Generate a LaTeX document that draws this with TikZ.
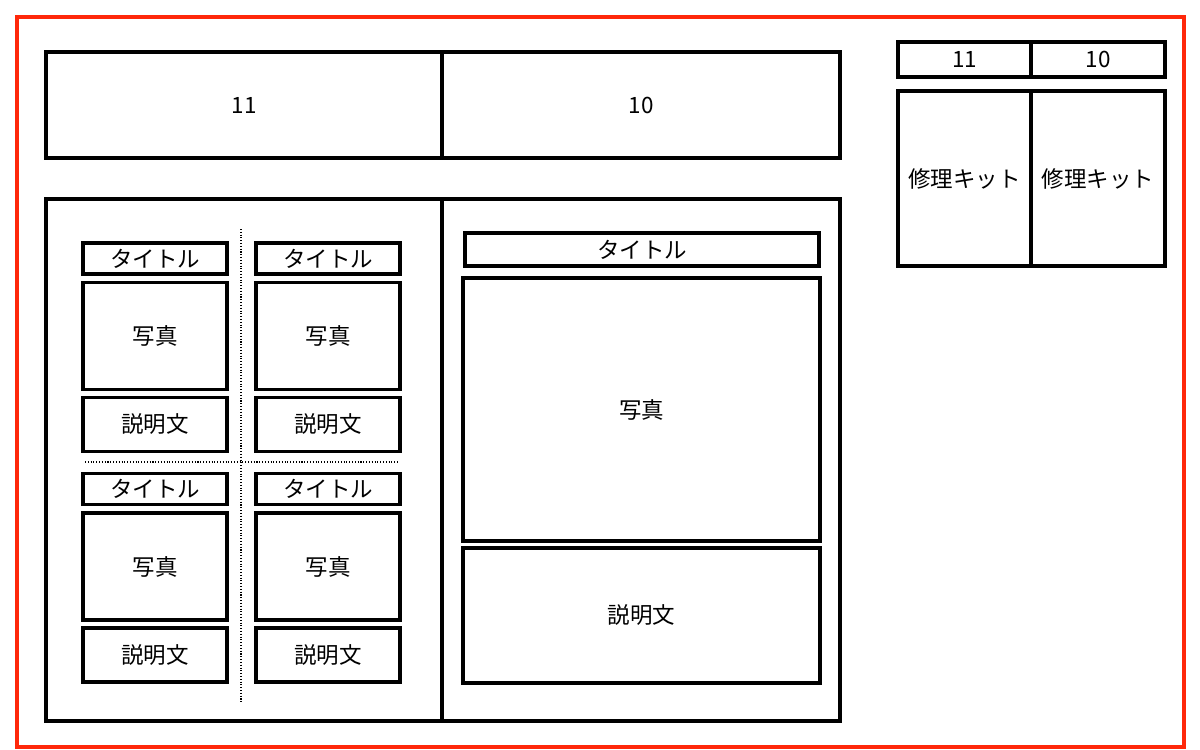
\documentclass[tikz,border=0pt]{standalone}
\usepackage{fontspec}
\setmainfont{Noto Sans CJK JP}
\usepackage{xcolor}
\usepackage{tikz}
\usetikzlibrary{positioning}
\definecolor{framered}{RGB}{255,40,10}

\begin{document}
\begin{tikzpicture}[x=0.02cm, y=-0.02cm,
  frame/.style={draw=framered, line width=2.3pt},
  box/.style={draw, line width=2pt, inner sep=0pt, outer sep=0pt, align=center, font=\fontsize{12.8}{15}\selectfont},
  card/.style={box, minimum width=2.88cm},
  sep/.style={densely dotted, line width=0.6pt}
]
\useasboundingbox (0,0) rectangle (1200,750);
\draw[frame] (17,17) rectangle (1184,747);
% top bar
\node[box, minimum width=7.92cm, minimum height=2.12cm] (top11) at (244,105) {11};
\node[box, minimum width=7.96cm, minimum height=2.12cm] (top10) at (641,105) {10};
% main panels
\node[box, minimum width=7.92cm, minimum height=10.44cm] (left) at (244,460) {};
\node[box, minimum width=7.96cm, minimum height=10.44cm] (right) at (641,460) {};
% left panel, four cards
\node[card, minimum height=0.62cm] (title-a1) at (155,258.5) {タイトル};
\node[card, minimum height=2.14cm] (photo-a1) at (155,336) {写真};
\node[card, minimum height=1.08cm] (desc-a1) at (155,424.5) {説明文};
\node[card, minimum height=0.62cm] (title-b1) at (328,258.5) {タイトル};
\node[card, minimum height=2.14cm] (photo-b1) at (328,336) {写真};
\node[card, minimum height=1.08cm] (desc-b1) at (328,424.5) {説明文};
\node[card, minimum height=0.62cm] (title-a2) at (155,489) {タイトル};
\node[card, minimum height=2.14cm] (photo-a2) at (155,566.5) {写真};
\node[card, minimum height=1.08cm] (desc-a2) at (155,655) {説明文};
\node[card, minimum height=0.62cm] (title-b2) at (328,489) {タイトル};
\node[card, minimum height=2.14cm] (photo-b2) at (328,566.5) {写真};
\node[card, minimum height=1.08cm] (desc-b2) at (328,655) {説明文};
\draw[sep] (241,229) -- (241,702);
\draw[sep] (85,462) -- (398,462);
% right panel
\node[box, minimum width=7.08cm, minimum height=0.66cm] (title-r) at (642,249.5) {タイトル};
\node[box, minimum width=7.14cm, minimum height=5.26cm] (photo-r) at (641.5,409.5) {写真};
\node[box, minimum width=7.14cm, minimum height=2.7cm] (desc-r) at (641.5,615.5) {説明文};
% repair kits
\node[box, minimum width=2.66cm, minimum height=0.7cm] (s11) at (964.5,59.5) {11};
\node[box, minimum width=2.68cm, minimum height=0.7cm] (s10) at (1098,59.5) {10};
\node[box, minimum width=2.66cm, minimum height=3.5cm] (kit11) at (964.5,178.5) {修理キット};
\node[box, minimum width=2.68cm, minimum height=3.5cm] (kit10) at (1098,178.5) {修理キット};
\end{tikzpicture}
\end{document}
